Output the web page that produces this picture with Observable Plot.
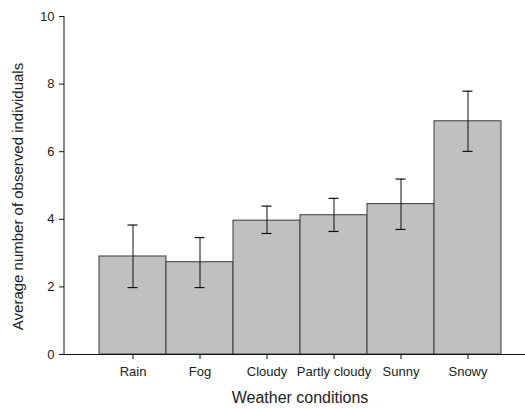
<!DOCTYPE html>
<html>
<head>
<meta charset="utf-8">
<script src="https://cdn.jsdelivr.net/npm/d3@7"></script>
<script src="https://cdn.jsdelivr.net/npm/@observablehq/plot@0.6"></script>
<style>
  html, body { margin: 0; padding: 0; background: #fff; }
  #chart svg { display: block; }
</style>
</head>
<body>
<div id="chart"></div>
<script>
const categories = ["Rain", "Fog", "Cloudy", "Partly cloudy", "Sunny", "Snowy"];
const means = [2.90, 2.73, 3.96, 4.12, 4.45, 6.90];
const lower = [1.98, 1.98, 3.58, 3.64, 3.70, 6.01];
const upper = [3.83, 3.46, 4.39, 4.62, 5.19, 7.79];
const yTicks = [0, 2, 4, 6, 8, 10];
const xTitle = "Weather conditions";
const yTitle = "Average number of observed individuals";

const data = categories.map((c, i) => ({cat: c, mean: means[i], lo: lower[i], hi: upper[i]}));

const font = "Liberation Sans, Arial, sans-serif";
const capInset = 28.5;

const yAxisLine = (index, scales, values, dimensions) => {
  const {marginLeft, marginTop, height, marginBottom} = dimensions;
  const g = d3.create("svg:g");
  g.append("line")
    .attr("x1", marginLeft).attr("x2", marginLeft)
    .attr("y1", marginTop).attr("y2", height - marginBottom)
    .attr("stroke", "#111").attr("stroke-width", 1);
  return g.node();
};

const chart = Plot.plot({
  width: 525,
  height: 410,
  marginTop: 16,
  marginBottom: 56,
  marginLeft: 64,
  marginRight: 0,
  style: {fontFamily: font, color: "#222", background: "#fff"},
  x: {type: "band", domain: categories, range: [97, 502], padding: 0, label: null},
  y: {domain: [0, 10], label: null},
  marks: [
    Plot.barY(data, {x: "cat", y: "mean", fill: "#c0c0c0", stroke: "#3a3a3a", strokeWidth: 1}),
    Plot.ruleX(data, {x: "cat", y1: "lo", y2: "hi", stroke: "#111", strokeWidth: 1}),
    Plot.tickY(data, {x: "cat", y: "lo", stroke: "#111", strokeWidth: 1.2, insetLeft: capInset, insetRight: capInset}),
    Plot.tickY(data, {x: "cat", y: "hi", stroke: "#111", strokeWidth: 1.2, insetLeft: capInset, insetRight: capInset}),
    Plot.ruleY([0], {stroke: "#111"}),
    yAxisLine,
    Plot.axisY({ticks: yTicks, tickSize: 5, tickPadding: 5, fontSize: 13, label: null, stroke: "#111"}),
    Plot.axisX({tickSize: 5, tickPadding: 7, fontSize: 13, label: null, stroke: "#111"}),
    Plot.text([yTitle], {frameAnchor: "left", dx: -46, dy: 11, rotate: -90, fontSize: 15, fill: "#222", textAnchor: "middle"}),
    Plot.text([xTitle], {frameAnchor: "bottom", dy: 48, dx: 5, fontSize: 16, fill: "#222", textAnchor: "middle"})
  ]
});

document.getElementById("chart").appendChild(chart);
</script>
</body>
</html>
